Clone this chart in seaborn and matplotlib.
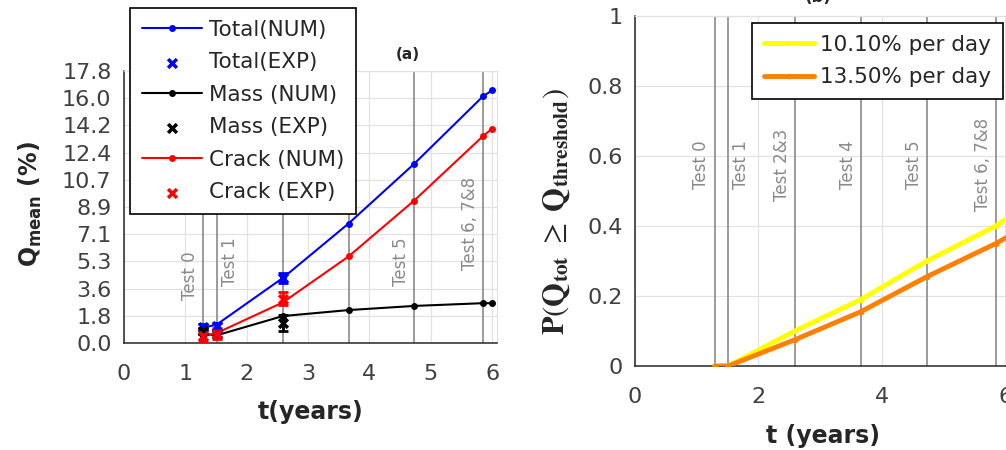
import numpy as np
import pandas as pd
import matplotlib
matplotlib.use("Agg")
import matplotlib.pyplot as plt
import seaborn as sns

# ---------------- data ----------------
# panel (a)
t_num = [1.29, 1.51, 2.59, 3.66, 4.73, 5.85, 6.0]
total_num = [1.0, 1.2, 4.25, 7.8, 11.7, 16.1, 16.5]
mass_num = [0.6, 0.5, 1.76, 2.15, 2.42, 2.6, 2.6]
crack_num = [0.45, 0.65, 2.65, 5.65, 9.3, 13.5, 14.0]

t_exp = [1.29, 1.51, 2.59]
total_exp = [1.05, 1.1, 4.25]
total_err = [0.22, 0.22, 0.33]
mass_exp = [0.8, 0.6, 1.3]
mass_err = [0.2, 0.2, 0.5]
crack_exp = [0.45, 0.6, 2.9]
crack_err = [0.35, 0.35, 0.42]

test_t = [1.29, 1.51, 2.59, 3.66, 4.73, 5.85]
test_labels = ["Test 0", "Test 1", "Test 2&3", "Test 4", "Test 5", "Test 6, 7&8"]

ytick_labels_a = ["0.0", "1.8", "3.6", "5.3", "7.1", "8.9", "10.7", "12.4", "14.2", "16.0", "17.8"]
ymax_a = 17.76

# panel (b)
t_prob = [1.29, 1.51, 2.59, 3.66, 4.73, 5.85, 6.1]
p_1010 = [0.0, 0.0, 0.10, 0.19, 0.30, 0.40, 0.43]
p_1350 = [0.0, 0.0, 0.075, 0.155, 0.255, 0.35, 0.375]
ytick_labels_b = ["0", "0.2", "0.4", "0.6", "0.8", "1"]

# ---------------- style ----------------
sns.set_style("white")
plt.rcParams["font.family"] = ["DejaVu Sans"]

GRID = "#e2e2e2"
TESTC = "#8a8a8a"
TICKC = "#404040"
LABC = "#262626"

W, H = 1006, 450
fig = plt.figure(figsize=(W / 100, H / 100), dpi=100)
axA = fig.add_axes([124 / W, 1 - 343 / H, 373 / W, 272 / H])
axB = fig.add_axes([635 / W, 1 - 366 / H, 375 / W, 350 / H])


def style_axes(ax):
    ax.grid(True, color=GRID, lw=0.9)
    ax.set_axisbelow(True)
    for s in ["left", "bottom"]:
        ax.spines[s].set_color(LABC)
        ax.spines[s].set_linewidth(1.1)
    for s in ["top", "right"]:
        ax.spines[s].set_color(GRID)
        ax.spines[s].set_linewidth(0.9)
    ax.tick_params(direction="in", length=4, width=1, color=LABC,
                   labelsize=16, labelcolor=TICKC)
    ax.tick_params(axis="x", pad=15)
    ax.tick_params(axis="y", pad=9)


# ---------------- panel (a) ----------------
style_axes(axA)
for tt in test_t:
    axA.axvline(tt, color=TESTC, lw=1.2, zorder=1)

# labels visible in panel (a): (index, side, y-center)
for i, side, yc in [(0, -1, 4.37), (1, 1, 5.3), (4, -1, 5.3), (5, -1, 7.8)]:
    axA.annotate(test_labels[i], xy=(test_t[i], yc), xytext=(3 * side, 0),
                 textcoords="offset points", rotation=90, va="center",
                 ha="right" if side < 0 else "left", fontsize=12, color=TESTC)

series = [
    ("Total", total_num, total_exp, total_err, "#0000ff"),
    ("Mass ", mass_num, mass_exp, mass_err, "#000000"),
    ("Crack ", crack_num, crack_exp, crack_err, "#ff0000"),
]
order = []
for name, num, exp, err, col in series:
    sns.lineplot(x=t_num, y=num, color=col, lw=1.5, marker="o", markersize=5,
                 markeredgewidth=0, label=f"{name}(NUM)", ax=axA, zorder=4)
    axA.errorbar(t_exp, exp, yerr=err, fmt="none", ecolor=col, elinewidth=2,
                 capsize=3.5, capthick=2, zorder=5)
    sns.scatterplot(x=t_exp, y=exp, color=col, marker="x", s=40, linewidth=2.5,
                    label=f"{name}(EXP)", ax=axA, zorder=6)
    order += [f"{name}(NUM)", f"{name}(EXP)"]

h, l = axA.get_legend_handles_labels()
hd = dict(zip(l, h))
legA = axA.legend([hd[k] for k in order], order, loc="upper left",
                  bbox_to_anchor=(130 / W, 1 - 8 / H), bbox_transform=fig.transFigure,
                  borderaxespad=0, frameon=True, fancybox=False, edgecolor="black",
                  framealpha=1, fontsize=15.5, handlelength=2.8, handletextpad=0.3,
                  labelspacing=0.58, borderpad=0.55)
legA.get_frame().set_linewidth(1.2)
legA.set_zorder(10)

axA.set_xlim(0, 6.08)
axA.set_ylim(0, ymax_a)
axA.set_xticks(range(0, 7))
axA.set_yticks(np.linspace(0, ymax_a, len(ytick_labels_a)))
axA.set_yticklabels(ytick_labels_a)
axA.set_xlabel("t(years)", fontsize=17, fontweight="bold", color=LABC)
axA.xaxis.set_label_coords(0.5, -0.21)
axA.set_ylabel(r"$\mathbf{Q_{mean}}$ (%)", fontsize=17, fontweight="bold", color=LABC)
axA.yaxis.set_label_coords(-0.215, 0.51)
axA.text(0.761, 1.06, "(a)", transform=axA.transAxes, ha="center", va="center",
         fontsize=11, fontweight="bold", color=LABC)

# ---------------- panel (b) ----------------
style_axes(axB)
for tt in test_t:
    axB.axvline(tt, color=TESTC, lw=1.2, zorder=1)
for i, tt in enumerate(test_t):
    side = 1 if i == 1 else -1
    axB.annotate(test_labels[i], xy=(tt, 0.575), xytext=(3 * side, 0),
                 textcoords="offset points", rotation=90, va="center",
                 ha="right" if side < 0 else "left", fontsize=12, color=TESTC)

sns.lineplot(x=t_prob, y=p_1010, color="#ffff00", lw=3.5, marker="o", markersize=4,
             markeredgewidth=0, label="10.10% per day", ax=axB, zorder=4)
sns.lineplot(x=t_prob, y=p_1350, color="#ff8000", lw=3.5, marker="o", markersize=4,
             markeredgewidth=0, label="13.50% per day", ax=axB, zorder=5)
legB = axB.legend(loc="upper right", bbox_to_anchor=(1003 / W, 1 - 23 / H),
                  bbox_transform=fig.transFigure, borderaxespad=0, frameon=True,
                  fancybox=False, edgecolor="black", framealpha=1, fontsize=15.5,
                  handlelength=2.3, handletextpad=0.3, labelspacing=0.58, borderpad=0.55)
legB.get_frame().set_linewidth(1.2)

axB.set_xlim(0, 6.08)
axB.set_ylim(0, 1)
axB.set_xticks([0, 2, 4, 6])
axB.set_yticks(np.linspace(0, 1, len(ytick_labels_b)))
axB.set_yticklabels(ytick_labels_b)
axB.set_xlabel("t (years)", fontsize=17, fontweight="bold", color=LABC)
axB.xaxis.set_label_coords(0.5, -0.165)
axB.set_ylabel(r"$\mathbf{P}(\mathbf{Q_{tot}}\ \geq\ \mathbf{Q_{threshold}})$",
               fontsize=22, color=LABC, math_fontfamily="stix")
axB.yaxis.set_label_coords(-0.168, 0.44)
axB.text(0.488, 1.029, "(b)", transform=axB.transAxes, ha="center", va="bottom",
         fontsize=12, fontweight="bold", color=LABC)

fig.savefig("out.png", dpi=100)
